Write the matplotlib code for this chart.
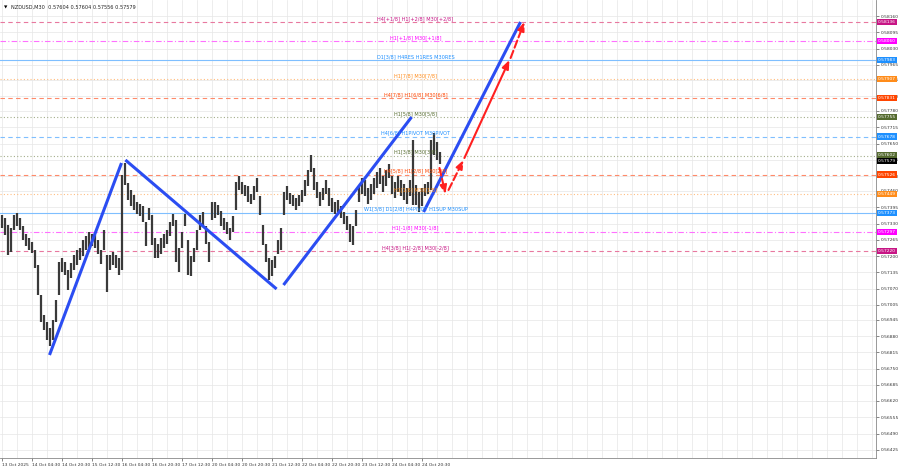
import numpy as np
import matplotlib
matplotlib.use("Agg")
from matplotlib import pyplot as plt
from matplotlib import transforms

# price bars (M30, one entry = 3 px on the chart)
bar_hi = [0.57364, 0.57352, 0.57324, 0.57312, 0.57364, 0.57372, 0.57352, 0.57320, 0.57288, 0.57272,
          0.57256, 0.57224, 0.57164, 0.57044, 0.56964, 0.56936, 0.56912, 0.56944, 0.57024, 0.57176,
          0.57192, 0.57176, 0.57144, 0.57172, 0.57204, 0.57224, 0.57232, 0.57264, 0.57280, 0.57296,
          0.57288, 0.57284, 0.57264, 0.57224, 0.57304, 0.57204, 0.57204, 0.57216, 0.57204, 0.57192,
          0.57524, 0.57572, 0.57492, 0.57464, 0.57444, 0.57416, 0.57408, 0.57400, 0.57336, 0.57392,
          0.57364, 0.57272, 0.57248, 0.57272, 0.57288, 0.57304, 0.57336, 0.57368, 0.57344, 0.57232,
          0.57296, 0.57368, 0.57264, 0.57200, 0.57232, 0.57304, 0.57364, 0.57376, 0.57320, 0.57256,
          0.57416, 0.57416, 0.57404, 0.57380, 0.57352, 0.57336, 0.57312, 0.57360, 0.57496, 0.57520,
          0.57496, 0.57484, 0.57480, 0.57448, 0.57480, 0.57512, 0.57440, 0.57324, 0.57248, 0.57192,
          0.57184, 0.57200, 0.57264, 0.57312, 0.57456, 0.57480, 0.57452, 0.57444, 0.57432, 0.57444,
          0.57464, 0.57504, 0.57544, 0.57604, 0.57552, 0.57496, 0.57456, 0.57472, 0.57504, 0.57472,
          0.57432, 0.57416, 0.57424, 0.57400, 0.57376, 0.57360, 0.57328, 0.57320, 0.57384, 0.57480,
          0.57512, 0.57504, 0.57472, 0.57488, 0.57512, 0.57536, 0.57552, 0.57520, 0.57544, 0.57568,
          0.57520, 0.57496, 0.57520, 0.57504, 0.57488, 0.57472, 0.57504, 0.57664, 0.57484, 0.57456,
          0.57472, 0.57488, 0.57496, 0.57664, 0.57692, 0.57656, 0.57616]
bar_lo = [0.57312, 0.57284, 0.57204, 0.57216, 0.57304, 0.57320, 0.57304, 0.57264, 0.57240, 0.57224,
          0.57212, 0.57152, 0.57044, 0.56936, 0.56904, 0.56864, 0.56840, 0.56864, 0.56936, 0.57044,
          0.57136, 0.57124, 0.57064, 0.57112, 0.57144, 0.57164, 0.57184, 0.57200, 0.57224, 0.57232,
          0.57240, 0.57232, 0.57208, 0.57168, 0.57224, 0.57056, 0.57144, 0.57164, 0.57152, 0.57124,
          0.57144, 0.57484, 0.57424, 0.57400, 0.57384, 0.57368, 0.57360, 0.57336, 0.57240, 0.57344,
          0.57244, 0.57192, 0.57192, 0.57208, 0.57232, 0.57248, 0.57280, 0.57320, 0.57176, 0.57136,
          0.57232, 0.57320, 0.57124, 0.57120, 0.57176, 0.57224, 0.57304, 0.57320, 0.57248, 0.57176,
          0.57344, 0.57352, 0.57364, 0.57320, 0.57304, 0.57288, 0.57264, 0.57296, 0.57384, 0.57464,
          0.57448, 0.57440, 0.57416, 0.57408, 0.57424, 0.57456, 0.57364, 0.57244, 0.57176, 0.57104,
          0.57120, 0.57152, 0.57208, 0.57224, 0.57364, 0.57424, 0.57408, 0.57400, 0.57384, 0.57400,
          0.57416, 0.57440, 0.57480, 0.57536, 0.57464, 0.57432, 0.57400, 0.57424, 0.57448, 0.57400,
          0.57376, 0.57368, 0.57376, 0.57352, 0.57328, 0.57304, 0.57256, 0.57244, 0.57320, 0.57416,
          0.57448, 0.57440, 0.57408, 0.57424, 0.57448, 0.57472, 0.57488, 0.57456, 0.57480, 0.57512,
          0.57448, 0.57432, 0.57456, 0.57440, 0.57424, 0.57408, 0.57440, 0.57404, 0.57404, 0.57376,
          0.57400, 0.57440, 0.57448, 0.57464, 0.57604, 0.57584, 0.57568]

x_labels = ["13 Oct 2025", "14 Oct 04:30", "14 Oct 20:30", "15 Oct 12:30", "16 Oct 04:30",
            "16 Oct 20:30", "17 Oct 12:30", "20 Oct 04:30", "20 Oct 20:30", "21 Oct 12:30",
            "22 Oct 04:30", "22 Oct 20:30", "23 Oct 12:30", "24 Oct 04:30", "24 Oct 20:30"]
x_label_bars = list(range(0, 150, 10))

y_ticks = [0.56425, 0.56490, 0.56555, 0.56620, 0.56685, 0.56750, 0.56815, 0.56880, 0.56945,
           0.57005, 0.57070, 0.57135, 0.57200, 0.57265, 0.57330, 0.57395, 0.57460, 0.57520,
           0.57585, 0.57650, 0.57715, 0.57780, 0.57840, 0.57905, 0.57965, 0.58030, 0.58095, 0.58160]

# murrey levels
level_prices = [0.58136, 0.58060, 0.57983, 0.57907, 0.57831, 0.57755, 0.57678,
                0.57602, 0.57526, 0.57449, 0.57373, 0.57297, 0.57220]
level_labels = ["H4[+1/8] H1[+2/8] M30[+2/8]", "H1[+1/8] M30[+1/8]", "D1[3/8] H4RES H1RES M30RES",
                "H1[7/8] M30[7/8]", "H4[7/8] H1[6/8] M30[6/8]", "H1[5/8] M30[5/8]",
                "H4[6/8] H1PIVOT M30PIVOT", "H1[3/8] M30[3/8]", "H4[5/8] H1[2/8] M30[2/8]",
                "H1[1/8] M30[1/8]", "W1[3/8] D1[2/8] H4PIVOT H1SUP M30SUP", "H1[-1/8] M30[-1/8]",
                "H4[3/8] H1[-2/8] M30[-2/8]"]
last_price = 0.57579

# wave lines (bar index, price)
wave_x = [[16, 40], [41.3, 91.7], [94, 136.7], [140.7, 173]]
wave_y = [[0.56804, 0.57572], [0.57584, 0.57068], [0.57084, 0.57756], [0.57376, 0.58136]]
# forecast arrows: start, end, dashed?
arrow_start = [(146, 0.57552), (149, 0.57464), (154.3, 0.57592), (169.7, 0.57992)]
arrow_end = [(148, 0.57448), (154, 0.57584), (169.3, 0.57984), (174.3, 0.58136)]
arrow_dashed = [True, True, False, True]

# styles
VR, MG, BL, OR, RD, OL = "#c71585", "#ff00ff", "#1e90ff", "#ff8c1a", "#ff4500", "#556b2f"
level_colors = [VR, MG, BL, OR, RD, OL, BL, OL, RD, OR, BL, MG, VR]
line_colors = {VR: "#e8789f", MG: "#ff70ff", BL: "#7fbfff", OR: "#ffbe80", RD: "#ff8a6a", OL: "#a3ad8a"}
level_ls = [(0, (4, 3)), (0, (5, 2, 1, 2)), "-", (0, (1, 2)), (0, (4, 3)), (0, (1, 2)), (0, (4, 3)),
            (0, (1, 2)), (0, (4, 3)), (0, (1, 2)), "-", (0, (5, 2, 1, 2)), (0, (4, 3))]

FS = 3.2

fig = plt.figure(figsize=(9, 4.68), dpi=100)
ax = fig.add_axes([0.0, 10 / 468, 876 / 900, 458 / 468])
ax.set_xlim(-0.5, 291.5)
ax.set_ylim(0.56392, 0.58224)

# grid
for xb in np.arange(0, 292, 5):
    ax.axvline(xb, color="#e6e6e6", lw=0.5, zorder=0)
for yt in y_ticks:
    ax.axhline(yt, color="#e6e6e6", lw=0.5, zorder=0)

# levels
for p, lab, c, ls in zip(level_prices, level_labels, level_colors, level_ls):
    ax.axhline(p, color=line_colors[c], lw=0.8, ls=ls, zorder=1)
    ax.text(138, p + 0.00004, lab, color=c, fontsize=3.6, ha="center", va="bottom", zorder=5)

# candles
xs = np.arange(len(bar_hi))
ax.vlines(xs, bar_lo, bar_hi, color="#3a3a3a", lw=1.6, zorder=3)

# waves
for wx, wy in zip(wave_x, wave_y):
    ax.plot(wx, wy, color="#2b4df2", lw=2.2, solid_capstyle="butt", zorder=4)

for s, e, d in zip(arrow_start, arrow_end, arrow_dashed):
    ax.annotate("", xy=e, xytext=s,
                arrowprops=dict(arrowstyle="-|>,head_length=0.5,head_width=0.2", color="#ff2020",
                                lw=1.5, ls="--" if d else "-", shrinkA=0, shrinkB=0),
                zorder=4)

# axes styling
for side in ["top", "left"]:
    ax.spines[side].set_visible(False)
ax.spines["right"].set_color("#888888")
ax.spines["bottom"].set_color("#888888")
ax.spines["right"].set_linewidth(0.6)
ax.spines["bottom"].set_linewidth(0.6)
ax.yaxis.tick_right()
ax.set_yticks(y_ticks)
ax.set_yticklabels([f"{v:.5f}" for v in y_ticks], fontsize=FS, color="#333333")
ax.tick_params(axis="y", length=2, width=0.5, pad=1.5, colors="#555555", labelcolor="#333333")
ax.set_xticks(x_label_bars)
ax.set_xticklabels(x_labels, fontsize=FS, color="#333333", ha="left")
ax.tick_params(axis="x", length=2, width=0.5, pad=1.5, colors="#555555", labelcolor="#333333")

# price boxes on the right axis
trans = transforms.blended_transform_factory(ax.transAxes, ax.transData)
for p, c in zip(level_prices, level_colors):
    ax.text(1.002, p, f"{p:.5f}", transform=trans, fontsize=FS, color="white", va="center",
            ha="left", bbox=dict(boxstyle="square,pad=0.25", fc=c, ec="none"), clip_on=False, zorder=6)
ax.text(1.002, last_price, f"{last_price:.5f}", transform=trans, fontsize=FS, color="white",
        va="center", ha="left", bbox=dict(boxstyle="square,pad=0.25", fc="black", ec="none"),
        clip_on=False, zorder=7)

# title
ax.text(0.004, 0.988, "\u25bc", transform=ax.transAxes, fontsize=3.2, va="top", ha="left")
ax.text(0.012, 0.99, "NZDUSD,M30  0.57604 0.57604 0.57556 0.57579", transform=ax.transAxes,
        fontsize=3.6, va="top", ha="left", color="#222222")

fig.savefig("out.png", dpi=100, facecolor="white")
